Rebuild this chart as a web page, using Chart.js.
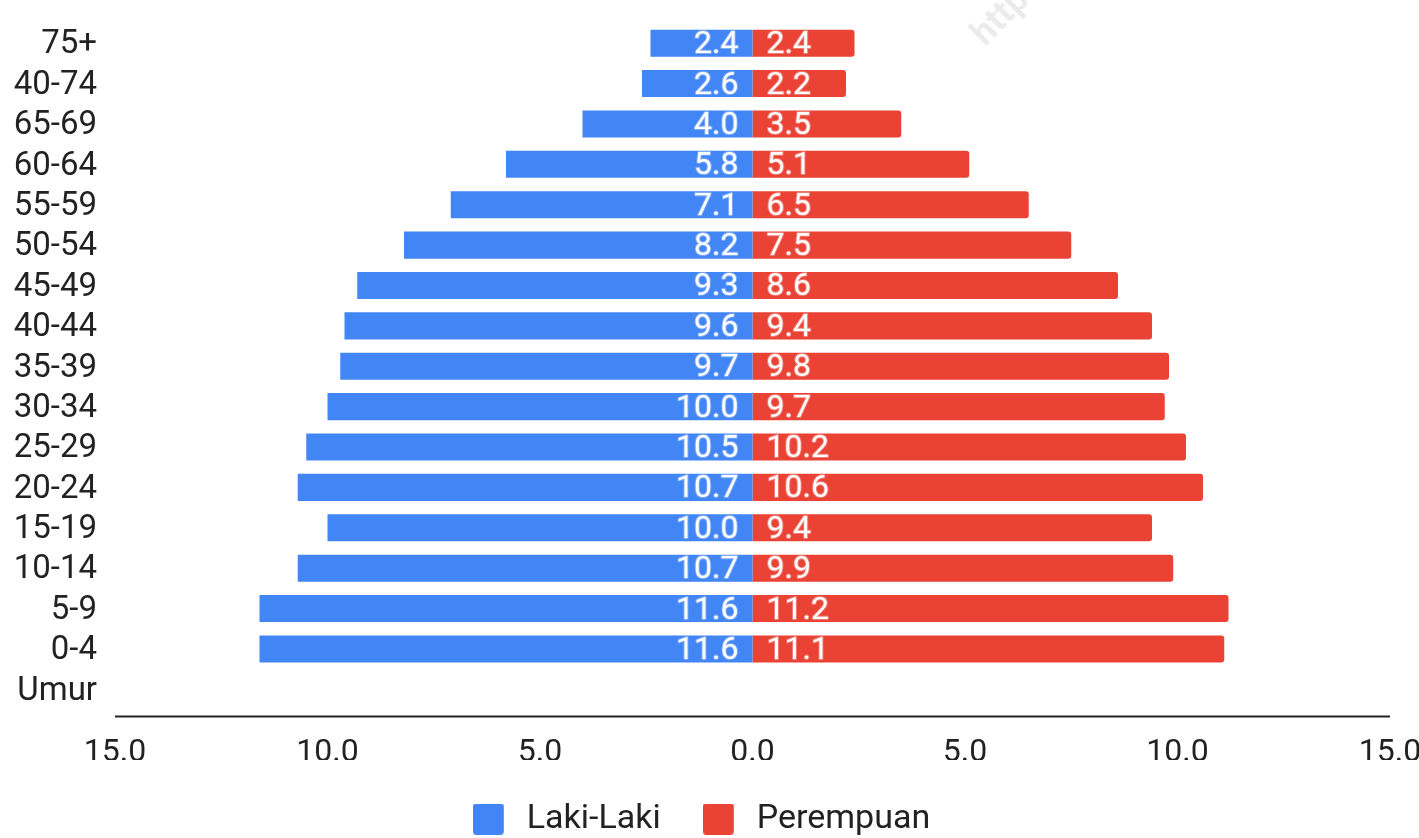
<!DOCTYPE html>
<html>
<head>
<meta charset="utf-8">
<title>Piramida Penduduk</title>
<script src="https://cdn.jsdelivr.net/npm/chart.js@4/dist/chart.umd.min.js"></script>
<style>
  html, body { margin: 0; padding: 0; background: #ffffff; }
  #wrap { position: relative; width: 1419px; height: 838px; }
</style>
</head>
<body>
<div id="wrap"><canvas id="pyramid"></canvas></div>
<script>
// Age groups, top to bottom (the last row carries the axis caption)
const ageGroups = ['75+', '40-74', '65-69', '60-64', '55-59', '50-54', '45-49', '40-44',
                   '35-39', '30-34', '25-29', '20-24', '15-19', '10-14', '5-9', '0-4', 'Umur'];

// Share of population per age group (%)
const maleValues   = [2.4, 2.6, 4.0, 5.8, 7.1, 8.2, 9.3, 9.6, 9.7, 10.0, 10.5, 10.7, 10.0, 10.7, 11.6, 11.6, null];
const femaleValues = [2.4, 2.2, 3.5, 5.1, 6.5, 7.5, 8.6, 9.4, 9.8, 9.7, 10.2, 10.6, 9.4, 9.9, 11.2, 11.1, null];

const seriesNames = ['Laki-Laki', 'Perempuan'];
const axisTicks = [-15, -10, -5, 0, 5, 10, 15];

const BLUE = '#4285F4';
const RED = '#EA4335';
const TEXT = '#222222';
const FONT = 'Roboto, "Liberation Sans", Arial, sans-serif';

// Legend swatch: a rounded square with room on its right for the gap to the text
function makeSwatch(color) {
  const c = document.createElement('canvas');
  c.width = 37; c.height = 31;
  const g = c.getContext('2d');
  g.fillStyle = color;
  g.beginPath();
  g.roundRect(0, 0, 31, 31, 3);
  g.fill();
  return c;
}
const swatches = [makeSwatch(BLUE), makeSwatch(RED)];

// Value labels sitting just either side of the centre line
const valueLabels = {
  id: 'valueLabels',
  afterDatasetsDraw(chart) {
    const ctx = chart.ctx;
    const zero = chart.scales.x.getPixelForValue(0);
    ctx.save();
    ctx.font = '32px ' + FONT;
    ctx.textBaseline = 'middle';
    ctx.lineJoin = 'round';
    chart.data.datasets.forEach((ds, di) => {
      const meta = chart.getDatasetMeta(di);
      meta.data.forEach((bar, i) => {
        const v = ds.data[i];
        if (v === null || v === undefined) return;
        const txt = Math.abs(v).toFixed(1);
        const left = v < 0;
        ctx.textAlign = left ? 'right' : 'left';
        const x = left ? zero - 14 : zero + 14;
        ctx.lineWidth = 2;
        ctx.strokeStyle = 'rgba(255,255,255,0.3)';
        ctx.strokeText(txt, x, bar.y + 2);
        ctx.fillStyle = '#ffffff';
        ctx.fillText(txt, x, bar.y + 2);
      });
    });
    ctx.restore();
  }
};

// Baseline under the bars plus the faint watermark near the top edge
const baseline = {
  id: 'baseline',
  beforeDatasetsDraw(chart) {
    const ctx = chart.ctx;
    const a = chart.chartArea;
    ctx.save();
    ctx.translate(985, 47);
    ctx.rotate(-Math.PI / 4);
    ctx.font = 'bold 36px ' + FONT;
    ctx.fillStyle = 'rgba(0,0,0,0.08)';
    ctx.textBaseline = 'alphabetic';
    ctx.fillText('https', 0, 0);
    ctx.restore();

    ctx.save();
    ctx.strokeStyle = '#222222';
    ctx.lineWidth = 2;
    ctx.beginPath();
    ctx.moveTo(a.left, a.bottom + 7);
    ctx.lineTo(a.right, a.bottom + 7);
    ctx.stroke();
    ctx.restore();
  }
};

new Chart(document.getElementById('pyramid'), {
  type: 'bar',
  data: {
    labels: ageGroups,
    datasets: [
      {
        label: seriesNames[0],
        data: maleValues.map(v => (v === null ? null : -v)),
        backgroundColor: BLUE,
        borderRadius: 0,
        borderSkipped: false,
        barPercentage: 0.67,
        categoryPercentage: 1.0
      },
      {
        label: seriesNames[1],
        data: femaleValues,
        backgroundColor: RED,
        borderRadius: { topLeft: 0, bottomLeft: 0, topRight: 3, bottomRight: 3 },
        borderSkipped: false,
        barPercentage: 0.67,
        categoryPercentage: 1.0
      }
    ]
  },
  options: {
    indexAxis: 'y',
    responsive: true,
    maintainAspectRatio: false,
    animation: false,
    layout: { padding: { top: 23, right: 16, bottom: 0, left: 0 } },
    scales: {
      x: {
        stacked: true,
        min: -15,
        max: 15,
        afterBuildTicks(scale) { scale.ticks = axisTicks.map(v => ({ value: v })); },
        afterFit(scale) {
          scale.height = 50.5;
          scale.paddingLeft = 0;
          scale.paddingRight = 29;
        },
        grid: { display: false, drawTicks: false },
        border: { display: false },
        ticks: {
          padding: 32,
          color: TEXT,
          font: { family: FONT, size: 32, lineHeight: '22px' },
          maxRotation: 0,
          autoSkip: false,
          callback: v => Math.abs(v).toFixed(1)
        }
      },
      y: {
        stacked: true,
        grid: { display: false, drawTicks: false },
        border: { display: false },
        afterFit(scale) {
          scale.width = 115;
          scale.paddingTop = 0;
          scale.paddingBottom = 0;
        },
        ticks: {
          padding: 18,
          labelOffset: 2,
          color: TEXT,
          autoSkip: false,
          font: { family: FONT, size: 33 }
        }
      }
    },
    plugins: {
      tooltip: { enabled: false },
      legend: {
        position: 'bottom',
        maxHeight: 78,
        labels: {
          usePointStyle: true,
          pointStyleWidth: 37,
          boxHeight: 31,
          padding: 42,
          color: TEXT,
          font: { family: FONT, size: 34 },
          generateLabels(chart) {
            const items = Chart.defaults.plugins.legend.labels.generateLabels(chart);
            items.forEach((it, i) => { it.pointStyle = swatches[i]; });
            return items;
          }
        }
      }
    }
  },
  plugins: [baseline, valueLabels]
});
</script>
</body>
</html>
